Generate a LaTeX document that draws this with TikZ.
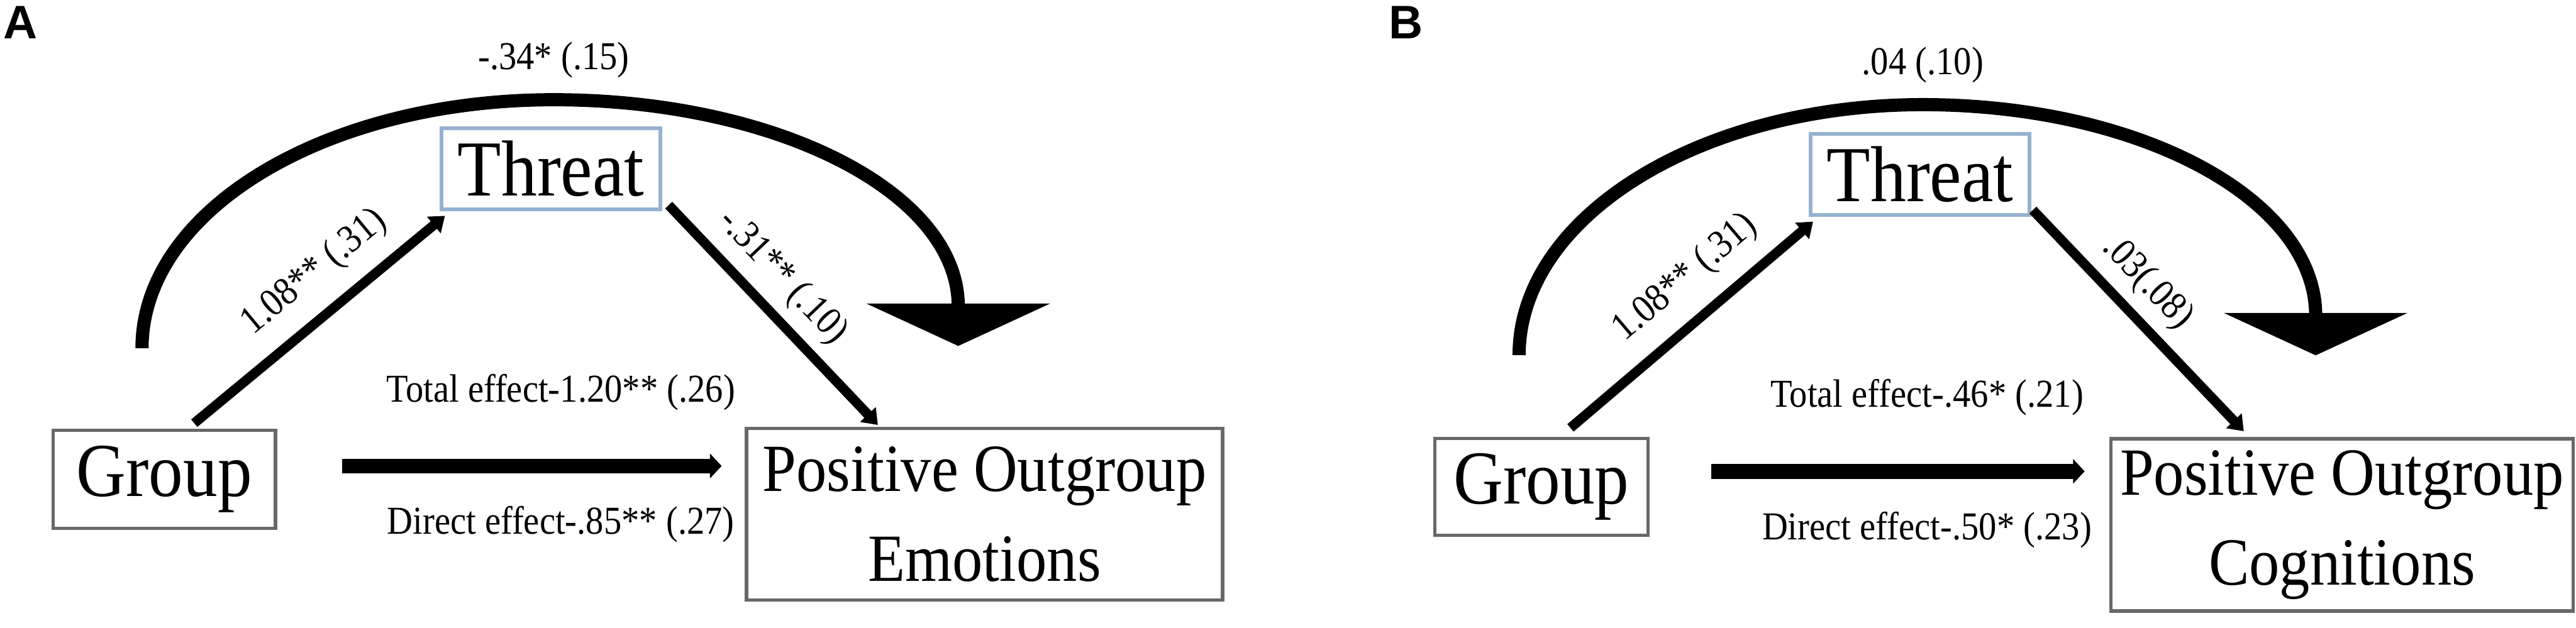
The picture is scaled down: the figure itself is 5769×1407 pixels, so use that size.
\documentclass[tikz,border=0pt]{standalone}
\usepackage{fontspec}
\setmainfont{Liberation Serif}[FakeStretch=0.9]
\newfontfamily\panelfont{Liberation Sans}
\usepackage{xcolor}
\usetikzlibrary{arrows.meta,calc}

\definecolor{threatblue}{RGB}{150,178,208}
\definecolor{boxgray}{RGB}{104,104,104}

\begin{document}
\begin{tikzpicture}[x=0.05mm, y=-0.05mm,
  varbox/.style={draw=boxgray, line width=1.1pt, fill=white, inner sep=0pt, align=center},
  medbox/.style={draw=threatblue, line width=1.3pt, fill=white, inner sep=0pt,
    minimum width=24.5mm, minimum height=9.1mm, font=\fontsize{25.3}{30}\selectfont},
  grpbox/.style={varbox, font=\fontsize{24.3}{29}\selectfont},
  outbox/.style={varbox, minimum height=19.2mm, font=\fontsize{21.5}{28.5}\selectfont},
  coef/.style={font=\fontsize{12.6}{15}\selectfont, inner sep=0pt},
  pathline/.style={line width=3.1pt, -{Triangle[width=6.6pt,length=4.6pt]}},
  effectline/.style={line width=4.7pt, -{Triangle[width=7.7pt,length=3.7pt]}},
  bigarc/.style={line width=4.2pt, -{Triangle[width=58pt,length=13.5pt]}},
  panel/.style={font=\panelfont\bfseries\fontsize{15}{18}\selectfont}
]
% page size as in the figure
\useasboundingbox (0,0) rectangle (5769,1407);

% ---------------- Panel A: emotions ----------------
\node[panel] (labA) at (46,50) {A};
\node[medbox] (thrA) at (1234,378) {Threat};
\node[grpbox, minimum width=24.9mm, minimum height=11mm] (grpA) at (368,1074) {Group};
\node[outbox, minimum width=53.3mm] (poeA) at (2205,1152) {Positive Outgroup\\Emotions};

% free ends of the curved path
\coordinate (arcsA) at ($(grpA.north)+(-50,-180)$);
\coordinate (arctA) at ($(thrA.north)+(6,-59)$);
\coordinate (arceA) at ($(poeA.north)+(-59,-181)$);
\coordinate (effA) at ($(grpA.east)+(145,-30)$);

% indirect paths
\draw[pathline] ($(grpA.north)+(67,-12)$) -- ($(thrA.south west)+(12,10)$)
  node[coef, pos=0.58, sloped, above=1.9mm] {1.08** (.31)};
\draw[pathline] ($(thrA.south east)+(14,-14)$) -- ($(poeA.north)+(-239,-4)$)
  node[coef, pos=0.43, sloped, above=1.1mm] {-.31** (.10)};

% total / direct effect
\draw[effectline, shorten >=2.6mm] (effA) -- (effA -| poeA.west)
  node[coef, pos=0.543, above=5.4mm] {Total effect-1.20** (.26)}
  node[coef, pos=0.543, below=3.7mm] {Direct effect-.85** (.27)};

% big curved arrow
\draw[bigarc] (arcsA) .. controls +(0,-308) and +(-513,0) .. (arctA)
  node[coef, above=1.7mm] {-.34* (.15)}
  .. controls +(497,0) and +(0,-345) .. (arceA);

% ---------------- Panel B: cognitions ----------------
\node[panel] (labB) at (3149,50) {B};
\node[medbox] (thrB) at (4300,391) {Threat};
\node[grpbox, minimum width=23.85mm, minimum height=10.85mm] (grpB) at (3452,1091) {Group};
\node[outbox, minimum width=51.75mm, minimum height=19.3mm] (pocB) at (5245,1176) {Positive Outgroup\\Cognitions};

% free ends of the curved path
\coordinate (arcsB) at ($(grpB.north)+(-50,-183)$);
\coordinate (arctB) at ($(thrB.north)+(6,-61)$);
\coordinate (arceB) at ($(pocB.north)+(-59,-183)$);
\coordinate (effB) at ($(grpB.east)+(138,-35)$);

% indirect paths
\draw[pathline] ($(grpB.north)+(65,-20)$) -- ($(thrB.south west)+(10,10)$)
  node[coef, pos=0.58, sloped, above=1.9mm] {1.08** (.31)};
\draw[pathline] ($(thrB.south east)+(3,-16)$) -- ($(pocB.north)+(-220,-13)$)
  node[coef, pos=0.43, sloped, above=1.1mm] {.03(.08)};

% total / direct effect
\draw[effectline, shorten >=2.75mm] (effB) -- (effB -| pocB.west)
  node[coef, pos=0.542, above=5.4mm] {Total effect-.46* (.21)}
  node[coef, pos=0.542, below=3.7mm] {Direct effect-.50* (.23)};

% big curved arrow
\draw[bigarc] (arcsB) .. controls +(0,-309) and +(-499,0) .. (arctB)
  node[coef, above=1.7mm] {.04 (.10)}
  .. controls +(486,0) and +(0,-350) .. (arceB);

\end{tikzpicture}
\end{document}
